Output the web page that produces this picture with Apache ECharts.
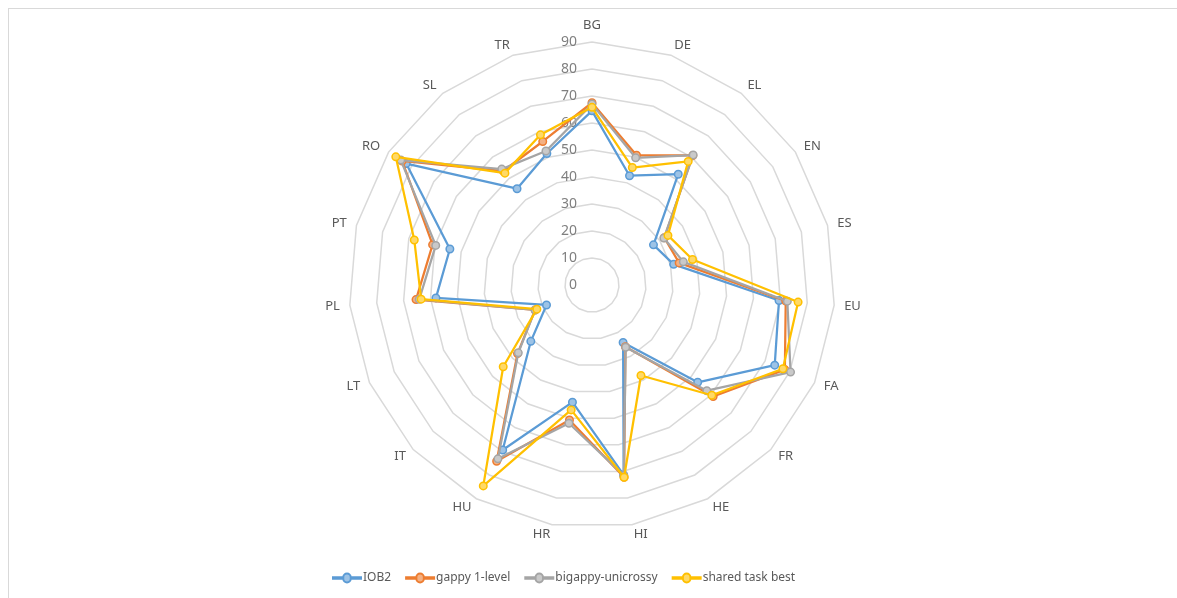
<!DOCTYPE html>
<html><head><meta charset="utf-8">
<script src="https://cdn.jsdelivr.net/npm/echarts@6/dist/echarts.min.js"></script>
<style>
html,body{margin:0;padding:0;background:#fff;}
#frame{position:absolute;left:8px;top:8px;width:1200px;height:620px;border:1px solid #d9d9d9;}
#c{position:absolute;left:0;top:0;width:1177px;height:598px;}
</style>
</head><body>
<div id="frame"></div>
<div id="c"></div>
<script>
const categories = ['BG','DE','EL','EN','ES','EU','FA','FR','HE','HI','HR','HU','IT','LT','PL','PT','RO','SL','TR'];
const iob2      = [64.5, 42.8, 52.0, 27.2, 31.2, 69.5, 73.9, 53.2, 24.2, 71.3, 44.0, 69.5, 30.8, 18.4, 58.0, 54.3, 82.2, 45.2, 51.5];
const gappy     = [67.5, 50.8, 60.8, 32.0, 33.3, 72.0, 78.0, 61.0, 26.0, 72.2, 50.7, 74.2, 37.5, 23.0, 65.4, 60.9, 84.0, 53.5, 56.2];
const bigappy   = [67.0, 49.8, 61.0, 31.8, 34.9, 72.6, 80.3, 57.8, 26.2, 71.5, 51.9, 73.2, 37.1, 23.0, 64.2, 59.7, 84.6, 54.4, 52.5];
const sharedBest= [65.8, 46.0, 58.0, 33.6, 38.4, 76.6, 77.2, 60.3, 38.1, 72.2, 46.9, 84.6, 44.7, 22.3, 63.5, 67.9, 86.8, 52.5, 58.8];
const seriesNames = ['IOB2','gappy 1-level','bigappy-unicrossy','shared task best'];
const axisMin = 0, axisMax = 90, axisStep = 10;

// ECharts lays radar indicators out counter-clockwise; reorder to clockwise.
const order = [0].concat(categories.map((_, i) => i).slice(1).reverse());
const reorder = arr => order.map(i => arr[i]);

const colors = ['#5B9BD5','#ED7D31','#A5A5A5','#FFC000'];
const lights = ['#9DC3E6','#F4B183','#C9C9C9','#FFD966'];
const font = 'Noto Sans';

const indicator = reorder(categories).map((name, k) => {
  const o = { name: name, min: axisMin, max: axisMax };
  if (k === 0) {
    o.axisLabel = { show: true, color: '#7f7f7f', fontSize: 14, fontFamily: font, margin: 15 };
  }
  return o;
});

const legendIcon = 'path://M0,4.25L11,4.25A4,4,0,1,1,19,4.25L30,4.25L30,5.75L19,5.75A4,4,0,1,1,11,5.75L0,5.75Z';

const allData = [iob2, gappy, bigappy, sharedBest];
const chart = echarts.init(document.getElementById('c'));
chart.setOption({
  animation: false,
  color: colors,
  legend: {
    top: 567,
    left: 327,
    itemWidth: 28,
    itemHeight: 9,
    itemGap: 14,
    icon: legendIcon,
    textStyle: { color: '#595959', fontSize: 12, fontFamily: font, padding: [0, 0, 0, -3] },
    data: seriesNames
  },
  radar: {
    center: [592, 285],
    radius: 243,
    startAngle: 90,
    shape: 'polygon',
    splitNumber: (axisMax - axisMin) / axisStep,
    indicator: indicator,
    axisName: { color: '#595959', fontSize: 13, fontFamily: font },
    nameGap: 10,
    axisLine: { show: false },
    axisTick: { show: false },
    axisLabel: { show: false },
    splitLine: { lineStyle: { color: '#d9d9d9', width: 1.5 } },
    splitArea: { show: false }
  },
  series: seriesNames.map((n, i) => ({
    type: 'radar',
    name: n,
    z: 2 + i,
    symbol: 'circle',
    symbolSize: 7.5,
    lineStyle: { width: 2.25, color: colors[i] },
    itemStyle: { color: lights[i], borderColor: colors[i], borderWidth: 1.5 },
    data: [{ name: n, value: reorder(allData[i]) }]
  }))
});
</script>
</body></html>
